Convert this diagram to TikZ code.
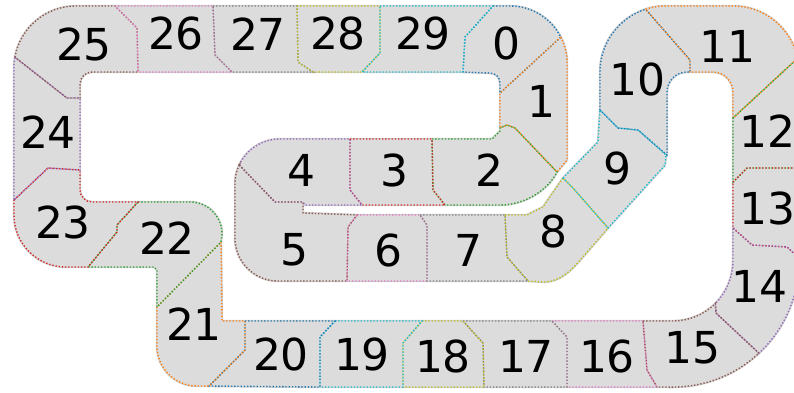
\documentclass[tikz,border=0pt]{standalone}
\usepackage{fontspec}
\setmainfont{DejaVu Sans}
\pgfdeclarelayer{halo}
\pgfdeclarelayer{bg}
\pgfsetlayers{halo,bg,main}
\definecolor{c0}{HTML}{1F77B4}
\definecolor{c1}{HTML}{FF7F0E}
\definecolor{c2}{HTML}{2CA02C}
\definecolor{c3}{HTML}{D62728}
\definecolor{c4}{HTML}{9467BD}
\definecolor{c5}{HTML}{8C564B}
\definecolor{c6}{HTML}{E377C2}
\definecolor{c7}{HTML}{7F7F7F}
\definecolor{c8}{HTML}{BCBD22}
\definecolor{c9}{HTML}{17BECF}
\definecolor{trackgrey}{HTML}{DCDCDC}
\definecolor{halogrey}{HTML}{CDCDCD}
\tikzset{
  segline/.style={draw=#1, line width=1.4pt, dash pattern=on 1.3pt off 1.9pt},
  segfill/.style={fill=trackgrey},
  seghalo/.style={fill=trackgrey, draw=halogrey, line width=2.4pt, line join=round},
  num/.style={inner sep=0pt, font=\fontsize{44}{44}\selectfont}
}
\newcommand\Seg[2]{%
  \begin{pgfonlayer}{halo}\path[seghalo] #2;\end{pgfonlayer}%
  \begin{pgfonlayer}{bg}\path[segfill] #2;\end{pgfonlayer}%
  \path[segline=#1] #2;}
\begin{document}
\begin{tikzpicture}[x=1pt,y=-1pt]
\useasboundingbox (0,0) rectangle (794,392);
% 0
\Seg{c0}{(493,6) -- (510,6) arc[start angle=270,end angle=333,radius=57] -- (500,93) -- (500,83) arc[start angle=0,end angle=-90,radius=10] -- (463,72) -- (465,37) -- cycle}
% 1
\Seg{c1}{(560.8,37.1) arc[start angle=333,end angle=360,radius=57] -- (567,160) -- (557,172) -- (515,128) -- (507,125) -- (500,128) -- (500,93) -- cycle}
% 2
\Seg{c2}{(432,139) -- (492,139) -- (500,131) -- (500,128) -- (507,125) -- (515,128) -- (557,172) .. controls (548,190) and (525,205) .. (500,205) -- (445,205) -- (433,190) -- cycle}
% 3
\Seg{c3}{(350,139) -- (432,139) -- (433,190) -- (445,205) -- (362,205) -- (350,190) -- cycle}
% 4
\Seg{c4}{(239.2,165) arc[start angle=205,end angle=270,radius=45] -- (350,139) -- (350,190) -- (362,205) -- (305,205) -- (303,202) -- (275,202) -- cycle}
% 5
\Seg{c5}{(239.2,165) -- (275,202) -- (303,202) -- (303,213) -- (357,215) -- (348,227) -- (347,281) -- (278,281) arc[start angle=90,end angle=180,radius=43] -- (235,184) arc[start angle=180,end angle=205,radius=45] -- cycle}
% 6
\Seg{c6}{(357,215) -- (420,215) -- (427,225) -- (427,281) -- (347,281) -- (348,227) -- cycle}
% 7
\Seg{c7}{(420,215) -- (505,215) -- (507,257) -- (528,281) -- (427,281) -- (427,225) -- cycle}
% 8
\Seg{c8}{(505,215) -- (527,215) -- (543,207) -- (563,178) -- (573,188) -- (608,228) -- (582,258) .. controls (570,272) and (560,281) .. (545,282) -- (528,281) -- (507,257) -- cycle}
% 9
\Seg{c9}{(563,178) -- (598,142) -- (600,110) -- (618,128) -- (638,130) -- (666,155) -- (665,165) -- (608,228) -- (573,188) -- cycle}
% 10
\Seg{c0}{(600,110) -- (600,72) arc[start angle=180,end angle=252,radius=66] -- (690,60) -- (690,72) -- (687,72) arc[start angle=270,end angle=180,radius=20] -- (667,155) -- (638,130) -- (618,128) -- cycle}
% 11
\Seg{c1}{(645.6,9.2) arc[start angle=252,end angle=270,radius=66] -- (733,6) arc[start angle=270,end angle=348,radius=66] -- (733,118) -- (733,92) arc[start angle=0,end angle=-90,radius=20] -- (690,72) -- (690,60) -- cycle}
% 12
\Seg{c2}{(733,118) -- (797.6,58.3) arc[start angle=348,end angle=360,radius=66] -- (799,168) -- (747,168) -- (733,182) -- cycle}
% 13
\Seg{c3}{(733,182) -- (747,168) -- (799,168) -- (799,258) -- (787,247) -- (752,245) -- (733,228) -- cycle}
% 14
\Seg{c4}{(733,228) -- (752,245) -- (787,247) -- (799,258) -- (799,261) arc[start angle=0,end angle=47,radius=126] -- (716,313) -- (715.4,303.4) arc[start angle=45,end angle=0,radius=60] -- cycle}
% 15
\Seg{c5}{(643,321) -- (673,321) arc[start angle=90,end angle=45,radius=60] -- (716,313) -- (758.9,353.2) arc[start angle=47,end angle=90,radius=126] -- (657,387) -- (647,370) -- cycle}
% 16
\Seg{c6}{(552,321) -- (643,321) -- (647,370) -- (657,387) -- (567,387) -- (567,337) -- cycle}
% 17
\Seg{c7}{(463,321) -- (552,321) -- (567,337) -- (567,387) -- (484,387) -- (483,343) -- cycle}
% 18
\Seg{c8}{(422,321) -- (463,321) -- (483,343) -- (484,387) -- (403,387) -- (403,343) -- cycle}
% 19
\Seg{c9}{(335,321) -- (422,321) -- (403,343) -- (403,387) -- (320,387) -- (320,337) -- cycle}
% 20
\Seg{c0}{(245,321) -- (335,321) -- (320,337) -- (320,387) -- (209,386) -- (245,350) -- cycle}
% 21
\Seg{c1}{(221,242) -- (222,321) -- (245,321) -- (245,350) -- (209,386) -- (197,386) arc[start angle=90,end angle=180,radius=40] -- (157,307) -- cycle}
% 22
\Seg{c2}{(138,202) -- (190,202) arc[start angle=270,end angle=360,radius=32] -- (221,242) -- (157,307) -- (157,270) -- (154,267) -- (88,267) -- (117,232) -- (117,225) -- cycle}
% 23
\Seg{c3}{(14,200) -- (48,168) -- (80,170) -- (80,190) arc[start angle=180,end angle=90,radius=12] -- (138,202) -- (117,225) -- (117,232) -- (88,267) -- (66,267) arc[start angle=90,end angle=180,radius=52] -- cycle}
% 24
\Seg{c4}{(14.94,57.23) -- (67,98) -- (80,98) -- (80,170) -- (48,168) -- (14,200) -- (14,68) arc[start angle=180,end angle=190,radius=62] -- cycle}
% 25
\Seg{c5}{(14.94,57.23) arc[start angle=190,end angle=270,radius=62] -- (115,6) -- (137,28) -- (138,72) -- (92,72) arc[start angle=270,end angle=180,radius=12] -- (80,98) -- (67,98) -- cycle}
% 26
\Seg{c6}{(115,6) -- (213,6) -- (215,55) -- (232,72) -- (138,72) -- (137,28) -- cycle}
% 27
\Seg{c7}{(213,6) -- (297,6) -- (298,62) -- (313,72) -- (232,72) -- (215,55) -- cycle}
% 28
\Seg{c8}{(297,6) -- (380,6) -- (380,53) -- (362,72) -- (313,72) -- (298,62) -- cycle}
% 29
\Seg{c9}{(380,6) -- (493,6) -- (465,37) -- (463,72) -- (362,72) -- (380,53) -- cycle}
% numbers
\node[num] (n0) at (506,43) {0};
\node[num] (n1) at (541,101) {1};
\node[num] (n2) at (489,170) {2};
\node[num] (n3) at (394,170) {3};
\node[num] (n4) at (301,170) {4};
\node[num] (n5) at (294,250) {5};
\node[num] (n6) at (388,250) {6};
\node[num] (n7) at (468,250) {7};
\node[num] (n8) at (553,231) {8};
\node[num] (n9) at (617,168) {9};
\node[num] (n10) at (637,79) {10};
\node[num] (n11) at (727,46) {11};
\node[num] (n12) at (767,131) {12};
\node[num] (n13) at (767,208) {13};
\node[num] (n14) at (759,286) {14};
\node[num] (n15) at (692,348) {15};
\node[num] (n16) at (607,356) {16};
\node[num] (n17) at (526,356) {17};
\node[num] (n18) at (443,356) {18};
\node[num] (n19) at (362,354) {19};
\node[num] (n20) at (281,354) {20};
\node[num] (n21) at (194,324) {21};
\node[num] (n22) at (167,238) {22};
\node[num] (n23) at (63,222) {23};
\node[num] (n24) at (48,132) {24};
\node[num] (n25) at (84,44) {25};
\node[num] (n26) at (176,33) {26};
\node[num] (n27) at (258,34) {27};
\node[num] (n28) at (338,33) {28};
\node[num] (n29) at (423,33) {29};
\end{tikzpicture}
\end{document}
